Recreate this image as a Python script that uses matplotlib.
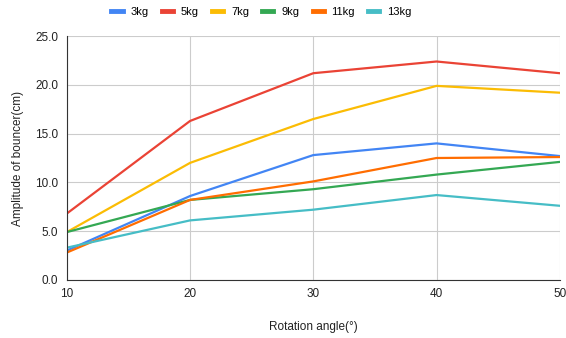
import matplotlib.pyplot as plt

angles = [10, 20, 30, 40, 50]
labels = ['3kg', '5kg', '7kg', '9kg', '11kg', '13kg']
amp_3 = [3.0, 8.6, 12.8, 14.0, 12.7]
amp_5 = [6.8, 16.3, 21.2, 22.4, 21.2]
amp_7 = [4.9, 12.0, 16.5, 19.9, 19.2]
amp_9 = [4.9, 8.2, 9.3, 10.8, 12.1]
amp_11 = [2.8, 8.2, 10.1, 12.5, 12.6]
amp_13 = [3.3, 6.1, 7.2, 8.7, 7.6]
colors = ['#4285F4', '#EA4335', '#FBBC04', '#34A853', '#FF6D01', '#46BDC6']

plt.rcParams['font.family'] = ['Liberation Sans', 'DejaVu Sans']

fig = plt.figure(figsize=(5.66, 3.38), dpi=100)
ax = fig.add_axes([0.118, 0.172, 0.871, 0.721])

for vals, lab, c in zip([amp_3, amp_5, amp_7, amp_9, amp_11, amp_13], labels, colors):
    ax.plot(angles, vals, color=c, lw=1.6, label=lab)

ax.set_xlim(10, 50)
ax.set_ylim(0, 25)
ax.set_xticks(angles)
ax.set_yticks([0, 5, 10, 15, 20, 25])
ax.set_yticklabels(['0.0', '5.0', '10.0', '15.0', '20.0', '25.0'])
ax.grid(True, color='#cccccc', lw=0.8)
ax.set_axisbelow(True)
for s in ['top', 'right']:
    ax.spines[s].set_visible(False)
for s in ['left', 'bottom']:
    ax.spines[s].set_color('#333333')
ax.tick_params(length=0, labelsize=8.5, colors='#222222', pad=6)
ax.set_xlabel('Rotation angle(°)', fontsize=8.5, color='#222222', labelpad=15)
ax.set_ylabel('Amplitude of bouncer(cm)', fontsize=8.5, color='#222222', labelpad=8)

fig.legend(loc='upper center', bbox_to_anchor=(0.462, 1.01), ncol=6, frameon=False,
           fontsize=8, handlelength=1.0, handleheight=0.5, columnspacing=1.2,
           handletextpad=0.7)
leg = fig.legends[0]
for h in leg.get_lines():
    h.set_linewidth(3.5)

fig.savefig('out.png', dpi=100)
